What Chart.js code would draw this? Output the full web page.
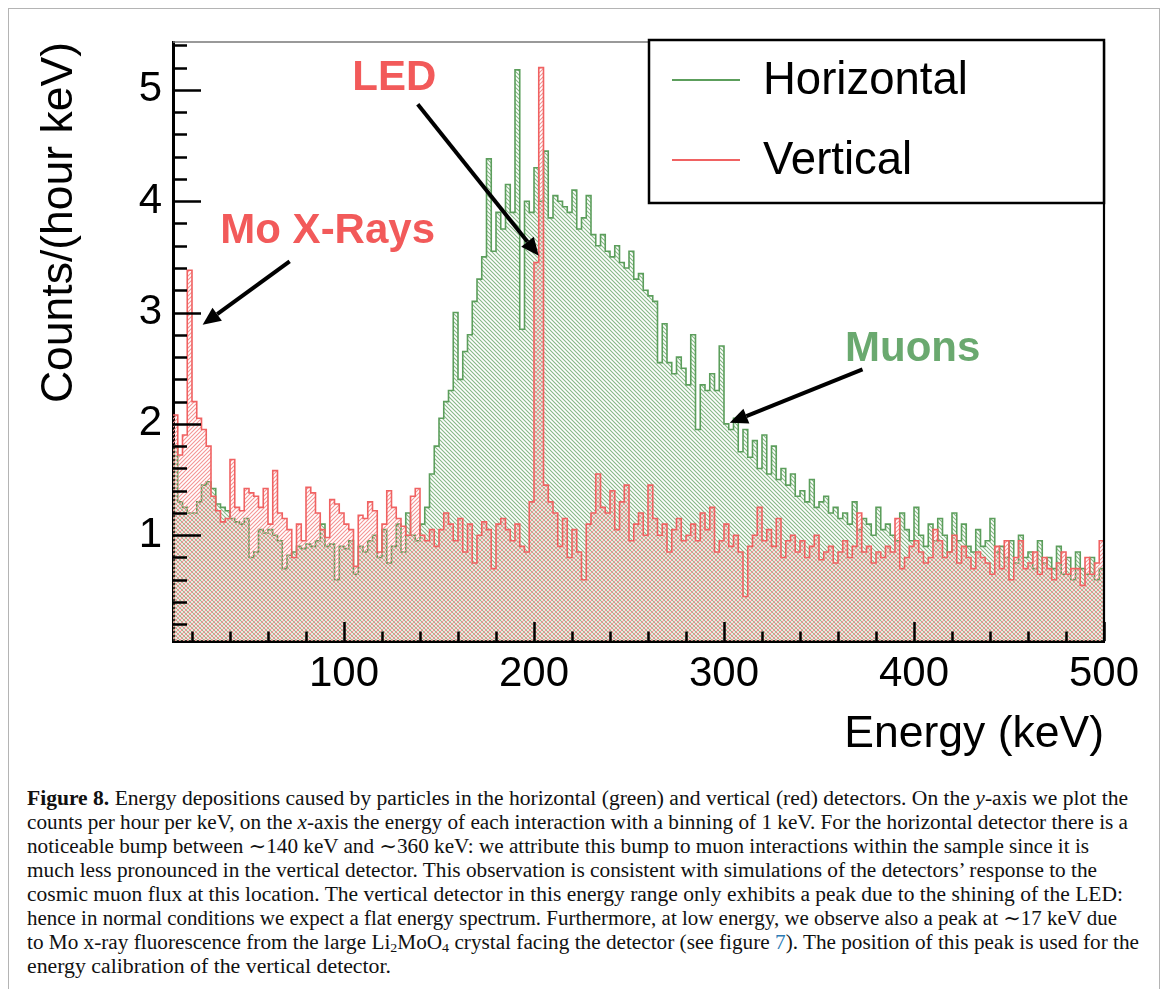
<!DOCTYPE html>
<html><head><meta charset="utf-8">
<script src="https://cdn.jsdelivr.net/npm/chart.js@4.4.0/dist/chart.umd.min.js"></script>
<style>
html,body{margin:0;padding:0;background:#fff;}
body{width:1166px;height:989px;position:relative;overflow:hidden;font-family:"Liberation Sans",Arial,sans-serif;}
#frame{position:absolute;left:8px;top:8px;width:1152px;height:1000px;border:1px solid #b4b4b4;box-sizing:border-box;}
#wrap{position:absolute;left:0;top:0;width:1166px;height:780px;}
.ln{position:absolute;left:27px;height:24px;line-height:24px;white-space:nowrap;font-family:"Liberation Serif","DejaVu Serif",serif;font-size:20.5px;color:#111;transform-origin:0 50%;}
.ln sub{font-size:13.5px;vertical-align:-3px;line-height:0;}
</style></head><body>
<div id="frame"></div>
<div id="wrap"><canvas id="c" width="1166" height="780"></canvas></div>
<div id="cap">
<div class="ln" data-w="1128" style="top:786px"><b>Figure 8.</b> Energy depositions caused by particles in the horizontal (green) and vertical (red) detectors. On the <i>y</i>-axis we plot the</div>
<div class="ln" data-w="1128" style="top:810px">counts per hour per keV, on the <i>x</i>-axis the energy of each interaction with a binning of 1 keV. For the horizontal detector there is a</div>
<div class="ln" data-w="1089" style="top:834px">noticeable bump between ∼140 keV and ∼360 keV: we attribute this bump to muon interactions within the sample since it is</div>
<div class="ln" data-w="1097" style="top:858px">much less pronounced in the vertical detector. This observation is consistent with simulations of the detectors’ response to the</div>
<div class="ln" data-w="1123" style="top:882px">cosmic muon flux at this location. The vertical detector in this energy range only exhibits a peak due to the shining of the LED:</div>
<div class="ln" data-w="1117" style="top:906px">hence in normal conditions we expect a flat energy spectrum. Furthermore, at low energy, we observe also a peak at ∼17 keV due</div>
<div class="ln" data-w="1139" style="top:930px">to Mo x-ray fluorescence from the large Li<sub>2</sub>MoO<sub>4</sub> crystal facing the detector (see figure <span style="color:#2b7bb5">7</span>). The position of this peak is used for the</div>
<div class="ln" data-w="391" style="top:954px">energy calibration of the vertical detector.</div>
</div>
<script>
// ---- data (2.5 keV bins from 10 to 500 keV) ----
const energyMin = 10;
const energyMax = 500;
const binWidth = 2.5;
const seriesLabels = ['Horizontal', 'Vertical'];

const horizontal = [
  1.8, 1.3, 1.25, 1.2, 1.2, 1.3, 1.45, 1.48, 1.42, 1.28,
  1.25, 1.22, 1.15, 1.12, 1.1, 1.15, 0.8, 0.85, 1.05, 1.02,
  1.05, 1.0, 0.95, 0.7, 0.82, 0.85, 0.9, 0.88, 0.92, 0.9,
  0.95, 1.1, 0.9, 0.92, 0.6, 0.9, 0.88, 0.95, 0.65, 0.9,
  0.85, 0.95, 1.0, 0.8, 1.05, 0.75, 0.9, 1.1, 0.85, 1.2,
  1.0, 0.95, 1.1, 1.25, 1.55, 1.8, 2.05, 2.2, 2.3, 3.0,
  2.4, 2.65, 2.8, 3.1, 3.3, 3.5, 4.38, 3.55, 3.9, 3.75,
  4.15, 3.9, 5.18, 2.85, 4.0, 3.9, 4.3, 4.0, 4.45, 3.85,
  4.05, 4.0, 3.95, 3.9, 4.1, 3.75, 3.85, 4.05, 3.7, 3.6,
  3.7, 3.55, 3.5, 3.6, 3.45, 3.4, 3.55, 3.3, 3.35, 3.2,
  3.15, 3.1, 2.55, 2.9, 2.55, 2.45, 2.6, 2.5, 2.35, 2.8,
  1.95, 2.35, 2.3, 2.45, 2.3, 2.7, 2.0, 1.95, 2.05, 1.75,
  1.95, 1.7, 1.85, 1.6, 1.9, 1.55, 1.8, 1.5, 1.6, 1.45,
  1.55, 1.35, 1.4, 1.3, 1.5, 1.25, 1.3, 1.35, 1.2, 1.25,
  1.15, 1.2, 1.1, 1.3, 1.05, 1.15, 1.1, 1.0, 1.25, 1.05,
  1.1, 1.0, 0.95, 1.2, 1.05, 0.95, 1.25, 1.0, 0.9, 1.1,
  0.95, 1.15, 1.0, 0.85, 1.2, 0.95, 1.1, 0.9, 0.85, 1.05,
  0.9, 0.95, 1.15, 0.85, 0.9, 0.8, 0.95, 0.75, 1.0, 0.8,
  0.85, 0.7, 0.95, 0.75, 0.8, 0.7, 0.9, 0.65, 0.8, 0.6,
  0.85, 0.7, 0.65, 0.8, 0.6, 0.7
];

const vertical = [
  2.08, 1.72, 1.9, 3.38, 2.2, 2.05, 1.95, 1.8, 1.35, 1.22,
  1.12, 1.15, 1.68, 1.25, 1.22, 1.42, 1.38, 1.35, 1.25, 1.42,
  1.1, 1.58, 1.2, 1.15, 1.05, 0.8, 1.1, 0.95, 1.43, 1.38,
  1.2, 1.05, 0.98, 1.32, 1.28, 1.2, 1.1, 1.05, 0.72, 1.18,
  1.15, 1.3, 1.22, 0.85, 1.1, 1.4, 1.25, 1.15, 1.08, 1.0,
  1.35, 1.42, 1.0, 0.95, 1.05, 0.9, 1.05, 1.2, 1.1, 0.95,
  1.15, 0.85, 1.1, 0.75, 1.0, 1.12, 1.05, 0.7, 1.1, 1.15,
  1.05, 0.95, 1.1, 0.9, 0.85, 1.3, 3.45, 5.2, 1.45, 1.3,
  1.2, 0.9, 1.15, 0.8, 1.05, 0.85, 0.6, 1.1, 1.2, 1.55,
  1.25, 1.2, 1.4, 1.05, 1.3, 1.45, 0.95, 1.1, 1.2, 1.0,
  1.45, 1.15, 1.0, 1.1, 0.85, 1.05, 1.15, 0.95, 1.0, 1.1,
  0.95, 1.2, 1.05, 1.25, 0.85, 0.95, 1.1, 0.9, 1.0, 0.85,
  0.45, 0.9, 1.0, 1.25, 0.95, 1.05, 0.9, 1.15, 0.8, 0.95,
  1.0, 0.85, 0.95, 0.8, 0.9, 1.0, 0.78, 0.85, 0.9, 0.75,
  0.85, 0.95, 0.8, 0.9, 1.2, 0.85, 0.9, 0.75, 0.85, 0.8,
  0.9, 0.85, 1.15, 0.7, 0.8, 0.9, 0.95, 0.85, 0.75, 0.8,
  1.05, 0.95, 0.8, 0.85, 1.0, 0.75, 0.9, 0.8, 0.7, 0.85,
  0.8, 0.75, 0.65, 0.9, 0.7, 0.95, 0.6, 0.8, 0.95, 0.7,
  0.75, 0.85, 0.65, 0.8, 0.7, 0.6, 0.75, 0.85, 0.65, 0.7,
  0.7, 0.55, 0.8, 0.65, 0.75, 0.95
];

const xTickValues = [100, 200, 300, 400, 500];
const yTickValues = [1, 2, 3, 4, 5];
const xRange = [10, 500];
const yRange = [0.05, 5.43];

const annotations = [
  {text: 'LED', color: '#f25a5a', x: 126.5, y: 5.1, from: [138.8, 4.87], to: [202.5, 3.51]},
  {text: 'Mo X-Rays', color: '#f25a5a', x: 91.4, y: 3.73, from: [71.4, 3.46], to: [25.6, 2.89]},
  {text: 'Muons', color: '#6aa96f', x: 399.3, y: 2.67, from: [372.9, 2.49], to: [303, 2.01]}
];

// ---- drawing ----
const GREEN = '#5c9e5c';
const RED = '#f06262';
const canvas = document.getElementById('c');
const ctx = canvas.getContext('2d');

function hatch(color, dir, size, lw) {
  const c = document.createElement('canvas');
  c.width = size; c.height = size;
  const g = c.getContext('2d');
  g.strokeStyle = color; g.lineWidth = lw;
  g.beginPath();
  if (dir === '/') {
    g.moveTo(-1, size + 1); g.lineTo(size + 1, -1);
    g.moveTo(-1, 1); g.lineTo(1, -1);
    g.moveTo(size - 1, size + 1); g.lineTo(size + 1, size - 1);
  } else {
    g.moveTo(-1, -1); g.lineTo(size + 1, size + 1);
    g.moveTo(-1, size - 1); g.lineTo(1, size + 1);
    g.moveTo(size - 1, -1); g.lineTo(size + 1, 1);
  }
  g.stroke();
  return ctx.createPattern(c, 'repeat');
}

function toPoints(vals) {
  const pts = vals.map((v, i) => ({x: energyMin + i * binWidth, y: v}));
  pts.push({x: energyMax, y: vals[vals.length - 1]});
  return pts;
}

const FAM = '"Liberation Sans", Arial, sans-serif';
const tickFont = {family: FAM, size: 42};
const titleFont = {family: FAM, size: 44.5};

const frameTicks = {
  id: 'frameTicks',
  afterDatasetsDraw(chart) {
    const {ctx, chartArea: a, scales: {x, y}} = chart;
    ctx.save();
    ctx.strokeStyle = '#777'; ctx.lineWidth = 1.5;
    ctx.beginPath(); ctx.moveTo(a.left, a.top); ctx.lineTo(a.right, a.top); ctx.stroke();
    ctx.strokeStyle = '#000'; ctx.lineWidth = 2.2;
    ctx.beginPath(); ctx.moveTo(a.right, a.top); ctx.lineTo(a.right, a.bottom + 1); ctx.stroke();
    ctx.strokeStyle = '#000'; ctx.lineWidth = 2.5;
    ctx.beginPath();
    for (let k = 1; k <= 27; k++) {
      const v = k * 0.2;
      if (v > y.max) break;
      const py = Math.round(y.getPixelForValue(v)) + 0.5;
      const major = k % 5 === 0;
      ctx.moveTo(a.left, py); ctx.lineTo(a.left + (major ? 28 : 14), py);
    }
    for (let e = 20; e <= 500; e += 20) {
      const px = Math.round(x.getPixelForValue(e)) + 0.5;
      const major = e % 100 === 0;
      ctx.moveTo(px, a.bottom); ctx.lineTo(px, a.bottom - (major ? 19 : 9.5));
    }
    ctx.stroke();
    ctx.restore();
  },
  afterDraw(chart) {
    const {ctx, chartArea: a, scales: {x, y}} = chart;
    ctx.save();
    const L = a.right - 455, T = a.top - 2, W = 455, H = 163;
    ctx.fillStyle = '#fff'; ctx.fillRect(L, T, W, H);
    ctx.strokeStyle = '#000'; ctx.lineWidth = 2.5; ctx.strokeRect(L, T, W, H);
    ctx.font = '45.5px ' + FAM;
    ctx.textBaseline = 'middle'; ctx.textAlign = 'left';
    chart.data.datasets.forEach((ds, i) => {
      const yy = T + 40 + i * 80;
      ctx.strokeStyle = ds.borderColor; ctx.lineWidth = 2;
      ctx.beginPath(); ctx.moveTo(L + 23, yy); ctx.lineTo(L + 91, yy); ctx.stroke();
      ctx.fillStyle = '#000';
      ctx.fillText(ds.label, L + 114, yy + 1);
    });
    annotations.forEach(an => {
      ctx.font = 'bold 42px ' + FAM;
      ctx.fillStyle = an.color; ctx.textAlign = 'center'; ctx.textBaseline = 'middle';
      ctx.fillText(an.text, x.getPixelForValue(an.x), y.getPixelForValue(an.y));
      const x0 = x.getPixelForValue(an.from[0]), y0 = y.getPixelForValue(an.from[1]);
      const x1 = x.getPixelForValue(an.to[0]), y1 = y.getPixelForValue(an.to[1]);
      const ang = Math.atan2(y1 - y0, x1 - x0);
      const hl = 18, hw = 8;
      const bx = x1 - hl * Math.cos(ang), by = y1 - hl * Math.sin(ang);
      ctx.strokeStyle = '#000'; ctx.lineWidth = 4;
      ctx.beginPath(); ctx.moveTo(x0, y0); ctx.lineTo(bx, by); ctx.stroke();
      ctx.fillStyle = '#000';
      ctx.beginPath();
      ctx.moveTo(x1, y1);
      ctx.lineTo(bx - hw * Math.sin(ang), by + hw * Math.cos(ang));
      ctx.lineTo(bx + hw * Math.sin(ang), by - hw * Math.cos(ang));
      ctx.closePath(); ctx.fill();
    });
    ctx.restore();
  }
};

new Chart(ctx, {
  type: 'line',
  data: {
    datasets: [
      {label: seriesLabels[0], data: toPoints(horizontal), borderColor: GREEN,
       backgroundColor: hatch('#86b886', '\\', 4, 1.1), fill: 'start', stepped: true,
       borderWidth: 1.6, pointRadius: 0, order: 2},
      {label: seriesLabels[1], data: toPoints(vertical), borderColor: RED,
       backgroundColor: hatch('#f49595', '/', 4, 1.1), fill: 'start', stepped: true,
       borderWidth: 1.6, pointRadius: 0, order: 1}
    ]
  },
  options: {
    responsive: false, animation: false, devicePixelRatio: 1,
    layout: {padding: {left: 10, top: 42, right: 62, bottom: 0}},
    plugins: {legend: {display: false}, tooltip: {enabled: false}},
    scales: {
      x: {
        type: 'linear', min: xRange[0], max: xRange[1],
        afterBuildTicks: s => { s.ticks = xTickValues.map(v => ({value: v})); },
        afterFit: s => { s.height = 139; },
        grid: {display: false, drawTicks: false},
        border: {display: true, color: '#000', width: 3},
        ticks: {font: tickFont, color: '#000', padding: 8, maxRotation: 0, autoSkip: false},
        title: {display: true, text: 'Energy (keV)', align: 'end', font: titleFont, color: '#000', padding: {top: 0, bottom: 19}}
      },
      y: {
        type: 'linear', min: yRange[0], max: yRange[1],
        afterBuildTicks: s => { s.ticks = yTickValues.map(v => ({value: v})); },
        afterFit: s => { s.width = 163; },
        grid: {display: false, drawTicks: false},
        border: {display: true, color: '#000', width: 3},
        ticks: {font: tickFont, color: '#000', padding: 11},
        title: {display: true, text: 'Counts/(hour keV)', align: 'end', font: titleFont, color: '#000', padding: {top: 23, bottom: 0}}
      }
    }
  },
  plugins: [frameTicks]
});

document.querySelectorAll('.ln').forEach(el => {
  const w = el.getBoundingClientRect().width;
  const target = parseFloat(el.dataset.w) - 27;
  el.style.transform = 'scaleX(' + (target / w).toFixed(4) + ')';
});
</script>
</body></html>
